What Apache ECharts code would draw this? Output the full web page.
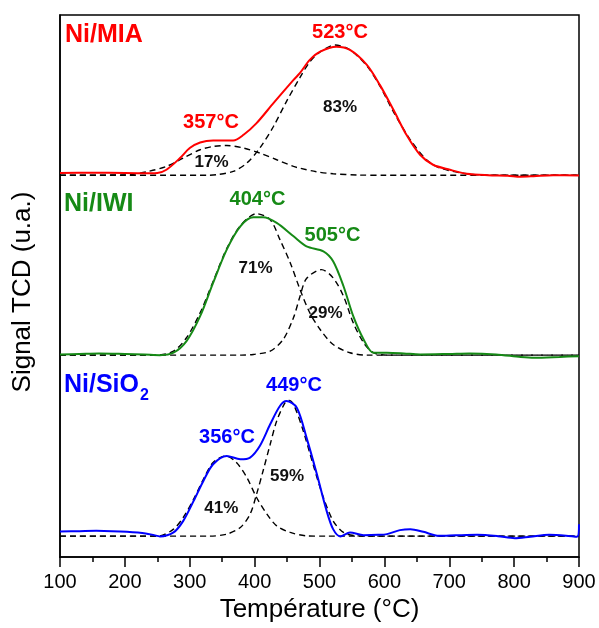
<!DOCTYPE html>
<html><head><meta charset="utf-8">
<script src="https://cdn.jsdelivr.net/npm/echarts@6/dist/echarts.min.js"></script>
<style>html,body{margin:0;padding:0;background:#fff}#c{width:599px;height:628px}</style>
</head><body><div id="c"></div>
<script>
// Temperature (°C) vs TCD signal (arbitrary units, curves stacked with offsets)
const niMIA_signal = [[100,382.7],[150,383],[200,382.7],[240,382.5],[250,382.7],[264,386],[285,397.7],[300,407.7],[316,413.3],[336,415.3],[367,415.3],[383,421],[403,432.7],[429,452.7],[460,476],[470,483],[485,496],[501,504.3],[526,509.3],[547,506],[573,491],[593,471],[614,446],[634,421],[655,401],[675,391],[701,386],[727,382],[760,380.5],[790,380],[810,379],[830,379.5],[860,380.5],[900,380.3]];
const niMIA_fit17 = [[100,380.5],[200,380.8],[213,381.5],[236,384.3],[264,389.3],[290,397.7],[316,406],[336,409.3],[357,410.3],[383,407.7],[408,402.7],[434,396],[460,389.3],[470,387.5],[495,384],[521,382],[560,380.7],[600,380.5],[900,380.5]];
const niMIA_fit83 = [[100,380.5],[330,380.5],[341,381],[367,384.3],[388,392.7],[408,407.7],[429,429.3],[449,454.3],[470,478.5],[485,494],[501,504],[524,511],[547,506],[573,490],[593,470],[614,444],[640,416],[665,396],[686,387.7],[727,382],[760,380.5],[900,380.5]];

const niIWI_signal = [[100,201],[130,201.5],[160,202],[200,201.5],[230,201],[254,200.3],[275,202.7],[295,214.3],[316,239.3],[336,272.7],[357,306],[378,329.3],[398,338.3],[413,338.3],[434,332.7],[460,319.3],[480,309.3],[506,304.3],[521,294.3],[537,269.3],[552,239.3],[568,216],[583,202.7],[604,202.7],[630,202],[655,201],[700,201.5],[731,202],[772,201],[810,198.5],[831,197.7],[870,198.5],[900,199.3]];
const niIWI_fit71 = [[100,200.3],[250,200.3],[275,204.3],[295,217.7],[316,242.7],[336,274],[357,307],[378,330],[403,342],[424,336],[439,316],[455,292.7],[470,266],[485,242.7],[501,226],[521,211],[547,202.7],[573,200.3],[900,200.3]];
const niIWI_fit29 = [[100,200.3],[380,200.3],[398,201],[424,204.3],[444,216],[460,238],[470,259.3],[480,277],[503,286],[521,277.7],[537,259.3],[552,232.7],[568,212.7],[583,202.7],[604,200.3],[900,200.3]];

const niSiO2_signal = [[100,23.7],[130,24],[156,24.3],[180,24],[203,23.3],[232,21.7],[245,20],[254,18.7],[275,22.7],[290,34.3],[306,54.3],[321,74.3],[336,91],[357,99.3],[378,96],[393,97.7],[408,109.3],[424,131],[439,149.3],[449,154.3],[465,147.7],[480,117.7],[496,81],[511,44.3],[521,26],[532,18.7],[547,22.7],[568,20],[590,20.3],[604,21],[624,25],[640,26],[660,23.3],[684,19.3],[710,19.8],[743,20.3],[775,19],[801,17],[825,18.5],[854,20.3],[880,19.5],[897,18.3],[900,31]];
const niSiO2_fit41 = [[100,19],[240,19],[254,19.3],[275,26],[290,37.7],[306,56],[321,76],[336,92.7],[356,99.3],[372,92.7],[388,77.7],[403,57.7],[419,41],[434,29.3],[455,22.7],[480,19.3],[510,19],[900,19]];
const niSiO2_fit59 = [[100,19],[330,19],[357,21],[378,27.7],[393,41],[403,61],[413,84.3],[424,111],[434,134.3],[447,152.7],[453,155],[460,151],[475,124.3],[490,91],[506,57.7],[521,34.3],[537,22.7],[557,19.3],[580,19],[900,19]];

const sampleNames = ['Ni/MIA', 'Ni/IWI', 'Ni/SiO', '2'];
const peakLabels = ['523°C', '357°C', '404°C', '505°C', '449°C', '356°C'];
const shareLabels = ['83%', '17%', '71%', '29%', '59%', '41%'];
const axisTitles = ['Température (°C)', 'Signal TCD (u.a.)'];

const FONT = '"Liberation Sans", Arial, Helvetica, sans-serif';
const RED = '#ff0000', GREEN = '#168a16', BLUE = '#0000ff';

function solid(data, color) {
  return {type:'line', data, smooth:0.3, symbol:'none', z:3,
    lineStyle:{color, width:2}};
}
function dashed(data) {
  return {type:'line', data, smooth:0.3, symbol:'none', z:2,
    lineStyle:{color:'#000', width:1.4, type:[6,4]}};
}
function txt(x, y, text, color, size, align) {
  return {type:'text', x, y, z:10,
    style:{text, fill:color, font:'bold ' + size + 'px ' + FONT,
      align: align || 'center', verticalAlign:'middle',
      textAlign: align || 'center', textVerticalAlign:'middle'}};
}

const chart = echarts.init(document.getElementById('c'));
chart.setOption({
  animation:false,
  backgroundColor:'#fff',
  grid:{left:60, right:20, top:15, bottom:70, show:true, borderColor:'#000', borderWidth:1.5},
  xAxis:{type:'value', min:100, max:900, interval:100,
    name:axisTitles[0], nameLocation:'middle', nameGap:38,
    nameTextStyle:{fontSize:26, color:'#000', fontFamily:FONT},
    axisLine:{show:true, onZero:false, lineStyle:{color:'#000', width:1.5}},
    axisTick:{show:true, inside:false, length:10, lineStyle:{color:'#000', width:1.5}},
    minorTick:{show:true, splitNumber:2, length:5, lineStyle:{color:'#000', width:1.5}},
    axisLabel:{fontSize:20, color:'#000', fontFamily:FONT, margin:15},
    splitLine:{show:false}, minorSplitLine:{show:false}},
  yAxis:{type:'value', min:-2, max:541,
    axisLine:{show:true, onZero:false, lineStyle:{color:'#000', width:1.5}},
    axisTick:{show:false}, axisLabel:{show:false}, splitLine:{show:false}},
  series:[
    dashed(niMIA_fit17), dashed(niMIA_fit83),
    dashed(niIWI_fit71), dashed(niIWI_fit29),
    dashed(niSiO2_fit41), dashed(niSiO2_fit59),
    solid(niMIA_signal, RED), solid(niIWI_signal, GREEN), solid(niSiO2_signal, BLUE)
  ],
  graphic:[
    {type:'text', x:23, y:292, rotation:Math.PI/2, z:10,
      style:{text:axisTitles[1], fill:'#000', font:'26px ' + FONT,
        align:'center', verticalAlign:'middle', textAlign:'center', textVerticalAlign:'middle'}},
    txt(65, 35, sampleNames[0], RED, 25, 'left'),
    txt(340, 32, peakLabels[0], RED, 20),
    txt(211, 122.5, peakLabels[1], RED, 20),
    txt(340, 107.5, shareLabels[0], '#111', 17),
    txt(211.5, 162.5, shareLabels[1], '#111', 17),
    txt(64, 204, sampleNames[1], GREEN, 25, 'left'),
    txt(257.5, 199.7, peakLabels[2], GREEN, 20),
    txt(332.5, 235.5, peakLabels[3], GREEN, 20),
    txt(255.5, 268.3, shareLabels[2], '#111', 17),
    txt(325.5, 313.3, shareLabels[3], '#111', 17),
    txt(64, 385, sampleNames[2], BLUE, 25, 'left'),
    txt(140, 396, sampleNames[3], BLUE, 16, 'left'),
    txt(294, 385, peakLabels[4], BLUE, 20),
    txt(227, 437.5, peakLabels[5], BLUE, 20),
    txt(287, 476.7, shareLabels[4], '#111', 17),
    txt(221.3, 508, shareLabels[5], '#111', 17)
  ]
});
</script></body></html>
